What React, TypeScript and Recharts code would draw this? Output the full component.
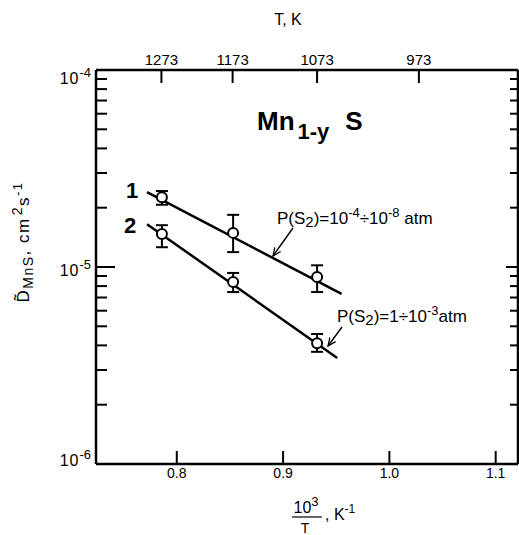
import { ErrorBar, Scatter, ScatterChart, XAxis, YAxis } from "recharts";

const FONT = "'Liberation Sans', Arial, Helvetica, sans-serif";

// axis setup
const X_DOMAIN = [0.724, 1.121];
const X_TICKS = [0.8, 0.9, 1.0, 1.1];
const TOP_T = [1273, 1173, 1073, 973];
const Y_DOMAIN = [1e-6, 1e-4];
const Y_MAJOR = [1e-6, 1e-5, 1e-4];
const Y_MINOR = [
  2e-6, 3e-6, 4e-6, 5e-6, 6e-6, 7e-6, 8e-6, 9e-6,
  2e-5, 3e-5, 4e-5, 5e-5, 6e-5, 7e-5, 8e-5, 9e-5,
];

// measured points, 10^3/T vs D (cm^2/s)
const INV_T = [0.786, 0.853, 0.932];
const D1 = [2.26e-5, 1.49e-5, 8.9e-6];
const D1_HI = [2.43e-5, 1.84e-5, 1.02e-5];
const D1_LO = [2.07e-5, 1.19e-5, 7.46e-6];
const D2 = [1.47e-5, 8.4e-6, 4.1e-6];
const D2_HI = [1.63e-5, 9.33e-6, 4.57e-6];
const D2_LO = [1.26e-5, 7.46e-6, 3.71e-6];

// fitted Arrhenius lines (end points)
const FIT1_X = [0.772, 0.955];
const FIT1_D = [2.4e-5, 7.3e-6];
const FIT2_X = [0.772, 0.951];
const FIT2_D = [1.65e-5, 3.45e-6];

const pts = (y: number[], hi: number[], lo: number[]) =>
  INV_T.map((x, i) => ({ x, y: y[i], err: [y[i] - lo[i], hi[i] - y[i]] }));
const fit = (xs: number[], ys: number[]) => xs.map((x, i) => ({ x, y: ys[i] }));

const series1 = pts(D1, D1_HI, D1_LO);
const series2 = pts(D2, D2_HI, D2_LO);
const fit1 = fit(FIT1_X, FIT1_D);
const fit2 = fit(FIT2_X, FIT2_D);

const Y_TICKS = [...Y_MAJOR, ...Y_MINOR].sort((a, b) => a - b);
const isMajor = (v: number) => Math.abs(Math.log10(v) - Math.round(Math.log10(v))) < 1e-6;
// hand-lettered exponent labels sit a little differently per decade
const LABEL_DY: Record<number, number> = { [-4]: 14, [-5]: 9, [-6]: 2 };

const axisLine = { stroke: "#000", strokeWidth: 2.5 };

function BottomTick({ x, y, payload }: any) {
  return (
    <g>
      <line x1={x} y1={y} x2={x} y2={y - 13} stroke="#000" strokeWidth={2} />
      <text x={x} y={y + 14} textAnchor="middle" fontSize={14} fontFamily={FONT} fill="#000">
        {payload.value.toFixed(1)}
      </text>
    </g>
  );
}

function TopTick({ x, y, payload }: any) {
  return (
    <g>
      <line x1={x} y1={y} x2={x} y2={y + 13} stroke="#000" strokeWidth={2} />
      <text x={x} y={y - 5} textAnchor="middle" fontSize={15} fontFamily={FONT} fill="#000">
        {Math.round(1000 / payload.value)}
      </text>
    </g>
  );
}

function LeftTick({ x, y, payload }: any) {
  const v = payload.value;
  const major = isMajor(v);
  const exp = Math.round(Math.log10(v));
  return (
    <g>
      <line x1={x} y1={y} x2={x + (major ? 19 : 11)} y2={y} stroke="#000" strokeWidth={2} />
      {major && (
        <text x={x - 5} y={y + (LABEL_DY[exp] ?? 4)} textAnchor="end" fontSize={16} fontFamily={FONT} fill="#000">
          <tspan letterSpacing={1}>10</tspan>
          <tspan dy={-7} fontSize={13}>
            {exp}
          </tspan>
        </text>
      )}
    </g>
  );
}

function RightTick({ x, y, payload }: any) {
  const major = isMajor(payload.value);
  return <line x1={x} y1={y} x2={x - (major ? 12 : 8)} y2={y} stroke="#000" strokeWidth={2} />;
}

const ring = (p: any) => <circle cx={p.cx} cy={p.cy} r={5} fill="#fff" stroke="#000" strokeWidth={2} />;
const noDot = () => <g />;

// axes are 1px boxes so that the plot frame sits at x 96..518, y 70..464
const tickless = { tickSize: 0, tickMargin: 0, tickLine: false, interval: 0 as const, allowDataOverflow: true, axisLine };

export default function App() {
  return (
    <div style={{ position: "absolute", left: 0, top: 0, width: 519, height: 535, background: "#fff" }}>
      <ScatterChart width={519} height={535} margin={{ top: 69, right: 0, bottom: 70, left: 95 }}>
        <XAxis xAxisId="b" dataKey="x" type="number" domain={X_DOMAIN} ticks={X_TICKS} height={1} tick={BottomTick} {...tickless} />
        <XAxis
          xAxisId="t"
          orientation="top"
          dataKey="x"
          type="number"
          domain={X_DOMAIN}
          ticks={TOP_T.map((t) => 1000 / t)}
          height={1}
          tick={TopTick}
          {...tickless}
        />
        <YAxis yAxisId="l" dataKey="y" type="number" scale="log" domain={Y_DOMAIN} ticks={Y_TICKS} width={1} tick={LeftTick} {...tickless} />
        <YAxis
          yAxisId="r"
          orientation="right"
          dataKey="y"
          type="number"
          scale="log"
          domain={Y_DOMAIN}
          ticks={Y_TICKS}
          width={1}
          tick={RightTick}
          {...tickless}
        />
        <Scatter xAxisId="t" yAxisId="r" data={fit1} line={{ stroke: "#000", strokeWidth: 2.5 }} shape={noDot} isAnimationActive={false} />
        <Scatter xAxisId="t" yAxisId="r" data={fit2} line={{ stroke: "#000", strokeWidth: 2.5 }} shape={noDot} isAnimationActive={false} />
        <Scatter xAxisId="b" yAxisId="l" data={series1} shape={ring} isAnimationActive={false}>
          <ErrorBar dataKey="err" direction="y" width={6} stroke="#000" strokeWidth={2} isAnimationActive={false} />
        </Scatter>
        <Scatter xAxisId="b" yAxisId="l" data={series2} shape={ring} isAnimationActive={false}>
          <ErrorBar dataKey="err" direction="y" width={6} stroke="#000" strokeWidth={2} isAnimationActive={false} />
        </Scatter>
      </ScatterChart>

      {/* titles and annotations */}
      <svg width={519} height={535} style={{ position: "absolute", left: 0, top: 0, pointerEvents: "none" }} fontFamily={FONT} fill="#000">
        <defs>
          <marker id="tip" viewBox="0 0 10 10" refX="9" refY="5" markerWidth="9" markerHeight="9" orient="auto" markerUnits="userSpaceOnUse">
            <path d="M0,1 L9,5 L0,9" fill="none" stroke="#000" strokeWidth={1.4} />
          </marker>
        </defs>

        <text x={288} y={25} textAnchor="middle" fontSize={16}>T, K</text>

        <text x={257} y={130} fontSize={26} fontWeight="bold">
          Mn
          <tspan dx={3} dy={9} fontSize={22}>1-y</tspan>
          <tspan dy={-9} dx={16}>S</tspan>
        </text>

        <text x={126} y={198} fontSize={22} fontWeight="bold">1</text>
        <text x={124} y={233} fontSize={22} fontWeight="bold">2</text>

        <text x={277} y={224} fontSize={17}>
          P(S<tspan dy={3} fontSize={15}>2</tspan>
          <tspan dy={-3}>)=10</tspan>
          <tspan dy={-7} fontSize={13}>-4</tspan>
          <tspan dy={7}>÷10</tspan>
          <tspan dy={-7} fontSize={13}>-8</tspan>
          <tspan dy={7}> atm</tspan>
        </text>
        <line x1={293} y1={228} x2={273} y2={256} stroke="#000" strokeWidth={1.4} markerEnd="url(#tip)" />

        <text x={337} y={322} fontSize={17}>
          P(S<tspan dy={3} fontSize={15}>2</tspan>
          <tspan dy={-3}>)=1÷10</tspan>
          <tspan dy={-7} fontSize={13}>-3</tspan>
          <tspan dy={7}>atm</tspan>
        </text>
        <line x1={342} y1={327} x2={328} y2={346} stroke="#000" strokeWidth={1.4} markerEnd="url(#tip)" />

        <text transform="translate(29, 242) rotate(-90)" textAnchor="middle" fontSize={17} letterSpacing={1.5}>
          D&#x303;
          <tspan dy={4} fontSize={14}>MnS</tspan>
          <tspan dy={-4}>, cm</tspan>
          <tspan dy={-7} dx={2} fontSize={14}>2</tspan>
          <tspan dy={7}>s</tspan>
          <tspan dy={-7} fontSize={13}>-1</tspan>
        </text>

        <text x={306} y={513} textAnchor="middle" fontSize={16}>
          10<tspan dy={-7} fontSize={13}>3</tspan>
        </text>
        <line x1={292} y1={517} x2={322} y2={517} stroke="#000" strokeWidth={1.2} />
        <text x={305} y={533} textAnchor="middle" fontSize={14}>T</text>
        <text x={325} y={520} fontSize={16}>
          ,  K<tspan dy={-7} fontSize={12}>-1</tspan>
        </text>
      </svg>
    </div>
  );
}
